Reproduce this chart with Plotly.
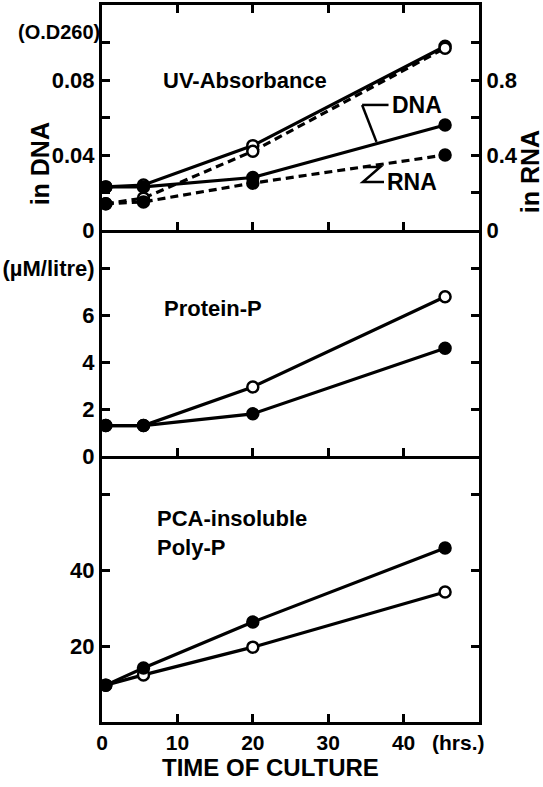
import plotly.graph_objects as go
from plotly.subplots import make_subplots

# ---------------- data ----------------
time_h = [0.5, 5.5, 20, 45.5]

# UV absorbance (O.D.260)
dna_open = [0.023, 0.024, 0.045, 0.098]      # left axis, solid, open circles
dna_filled = [0.023, 0.023, 0.028, 0.056]    # left axis, solid, filled circles
rna_open = [0.14, 0.17, 0.42, 0.97]          # right axis, dashed, open circles
rna_filled = [0.14, 0.15, 0.25, 0.40]        # right axis, dashed, filled circles

# Protein-P (uM/litre)
prot_open = [1.3, 1.3, 2.95, 6.8]
prot_filled = [1.3, 1.3, 1.8, 4.6]

# PCA-insoluble Poly-P
poly_filled = [9.7, 14.2, 26.3, 45.8]
poly_open = [9.7, 12.4, 19.7, 34.2]

x_tickvals = [0, 10, 20, 30, 40]
x_ticktext = ["0", "10", "20", "30", "40"]

top_left_tickvals = [0, 0.02, 0.04, 0.06, 0.08, 0.10]
top_left_ticktext = ["0", "", "0.04", "", "0.08", ""]
top_right_tickvals = [0, 0.2, 0.4, 0.6, 0.8, 1.0]
top_right_ticktext = ["0", "", "0.4", "", "0.8", ""]
mid_tickvals = [0, 2, 4, 6, 8]
mid_ticktext = ["0", "2", "4", "6", "(\u00b5M/litre)"]
bot_tickvals = [20, 40, 60]
bot_ticktext = ["20", "40", ""]

# ---------------- figure ----------------
FONT = "Liberation Sans"
BLACK = "#000000"

fig = make_subplots(
    rows=3, cols=1,
    row_heights=[225 / 717, 226 / 717, 266 / 717],
    vertical_spacing=0,
    specs=[[{"secondary_y": True}], [{}], [{}]],
)

def line_trace(x, y, filled, dash="solid"):
    return go.Scatter(
        x=x, y=y, mode="lines+markers",
        line=dict(color=BLACK, width=3.2, dash=dash),
        marker=dict(
            symbol="circle", size=11,
            color=BLACK if filled else "white",
            line=dict(color=BLACK, width=2.5),
        ),
        showlegend=False, cliponaxis=False,
    )

DASH = "8px,5px"
# top panel
fig.add_trace(line_trace(time_h, rna_open, False, DASH), row=1, col=1, secondary_y=True)
fig.add_trace(line_trace(time_h, rna_filled, True, DASH), row=1, col=1, secondary_y=True)
fig.add_trace(line_trace(time_h, dna_open, False), row=1, col=1, secondary_y=False)
fig.add_trace(line_trace(time_h, dna_filled, True), row=1, col=1, secondary_y=False)
# middle panel
fig.add_trace(line_trace(time_h, prot_open, False), row=2, col=1)
fig.add_trace(line_trace(time_h, prot_filled, True), row=2, col=1)
# bottom panel
fig.add_trace(line_trace(time_h, poly_open, False), row=3, col=1)
fig.add_trace(line_trace(time_h, poly_filled, True), row=3, col=1)

ytickfont = dict(family=FONT, size=22, color=BLACK, weight="bold")
xtickfont = dict(family=FONT, size=21, color=BLACK, weight="bold")
axis_common = dict(
    showline=True, linewidth=3, linecolor=BLACK,
    showgrid=False, zeroline=False, automargin=False,
    ticks="inside", ticklen=8, tickwidth=2.5, tickcolor=BLACK,
)

for r in (1, 2, 3):
    fig.update_xaxes(
        range=[0, 50], domain=[0, 1], tickvals=x_tickvals, ticktext=x_ticktext,
        showticklabels=(r == 3), mirror=("ticks" if r == 1 else False),
        tickfont=xtickfont, row=r, col=1, **axis_common,
    )

fig.update_yaxes(range=[0, 0.12], tickvals=top_left_tickvals, ticktext=top_left_ticktext,
                 mirror=False, tickfont=ytickfont, row=1, col=1, secondary_y=False, **axis_common)
fig.update_yaxes(range=[0, 1.2], tickvals=top_right_tickvals, ticktext=top_right_ticktext,
                 tickfont=ytickfont, row=1, col=1, secondary_y=True, **axis_common)
fig.update_yaxes(range=[0, 9.65], tickvals=mid_tickvals, ticktext=mid_ticktext,
                 mirror="ticks", tickfont=ytickfont, row=2, col=1, **axis_common)
fig.update_yaxes(range=[0, 70], tickvals=bot_tickvals, ticktext=bot_ticktext,
                 mirror="ticks", tickfont=ytickfont, row=3, col=1, **axis_common)

def f(size):
    return dict(family=FONT, size=size, color=BLACK, weight="bold")

ann = [
    dict(text="UV-Absorbance", x=19, y=0.08, xref="x", yref="y", font=f(22)),
    dict(text="DNA", x=38.2, y=0.0667, xref="x", yref="y", xanchor="left", font=f(23)),
    dict(text="RNA", x=37.5, y=0.0256, xref="x", yref="y", xanchor="left", font=f(23)),
    dict(text="(O.D260)", x=0, y=0.1056, xref="x domain", yref="y", xanchor="right", font=f(20)),
    dict(text="Protein-P", x=14.7, y=6.3, xref="x2", yref="y3", font=f(22)),
    dict(text="PCA-insoluble<br>Poly-P", x=7.0, y=49.7, xref="x3", yref="y4", xanchor="left",
         align="left", font=f(22)),
    dict(text="in DNA", x=-0.164, y=0.778, xref="paper", yref="paper", textangle=-90, font=f(25)),
    dict(text="in RNA", x=1.135, y=0.768, xref="paper", yref="paper", textangle=-90, font=f(25)),
    dict(text="(hrs.)", x=47.3, y=-0.028, xref="x3", yref="paper", font=f(21)),
    dict(text="TIME OF CULTURE", x=22.3, y=-0.064, xref="x3", yref="paper", font=f(24)),
]
for a in ann:
    a.setdefault("xanchor", "center")
    a["yanchor"] = "middle"
    a["showarrow"] = False
fig.update_layout(annotations=ann)

# leader lines for DNA / RNA labels
shape_line = dict(color=BLACK, width=2.5)
fig.add_shape(type="line", x0=34.5, y0=0.0667, x1=38.0, y1=0.0667, xref="x", yref="y", line=shape_line)
fig.add_shape(type="line", x0=34.5, y0=0.0667, x1=36.4, y1=0.047, xref="x", yref="y", line=shape_line)
fig.add_shape(type="path", path="M 34.6,0.0336 L 36.9,0.0336 L 34.6,0.0256 L 37.4,0.0256",
              xref="x", yref="y", line=shape_line)

fig.update_layout(
    width=543, height=787,
    margin=dict(l=102, r=64, t=5, b=65, autoexpand=False),
    paper_bgcolor="white", plot_bgcolor="white",
    font=dict(family=FONT, color=BLACK),
    showlegend=False,
)

fig.write_html(
    "out.html",
    config={"displayModeBar": False},
    post_script="document.body.style.margin='0';document.body.style.overflow='hidden';",
)
